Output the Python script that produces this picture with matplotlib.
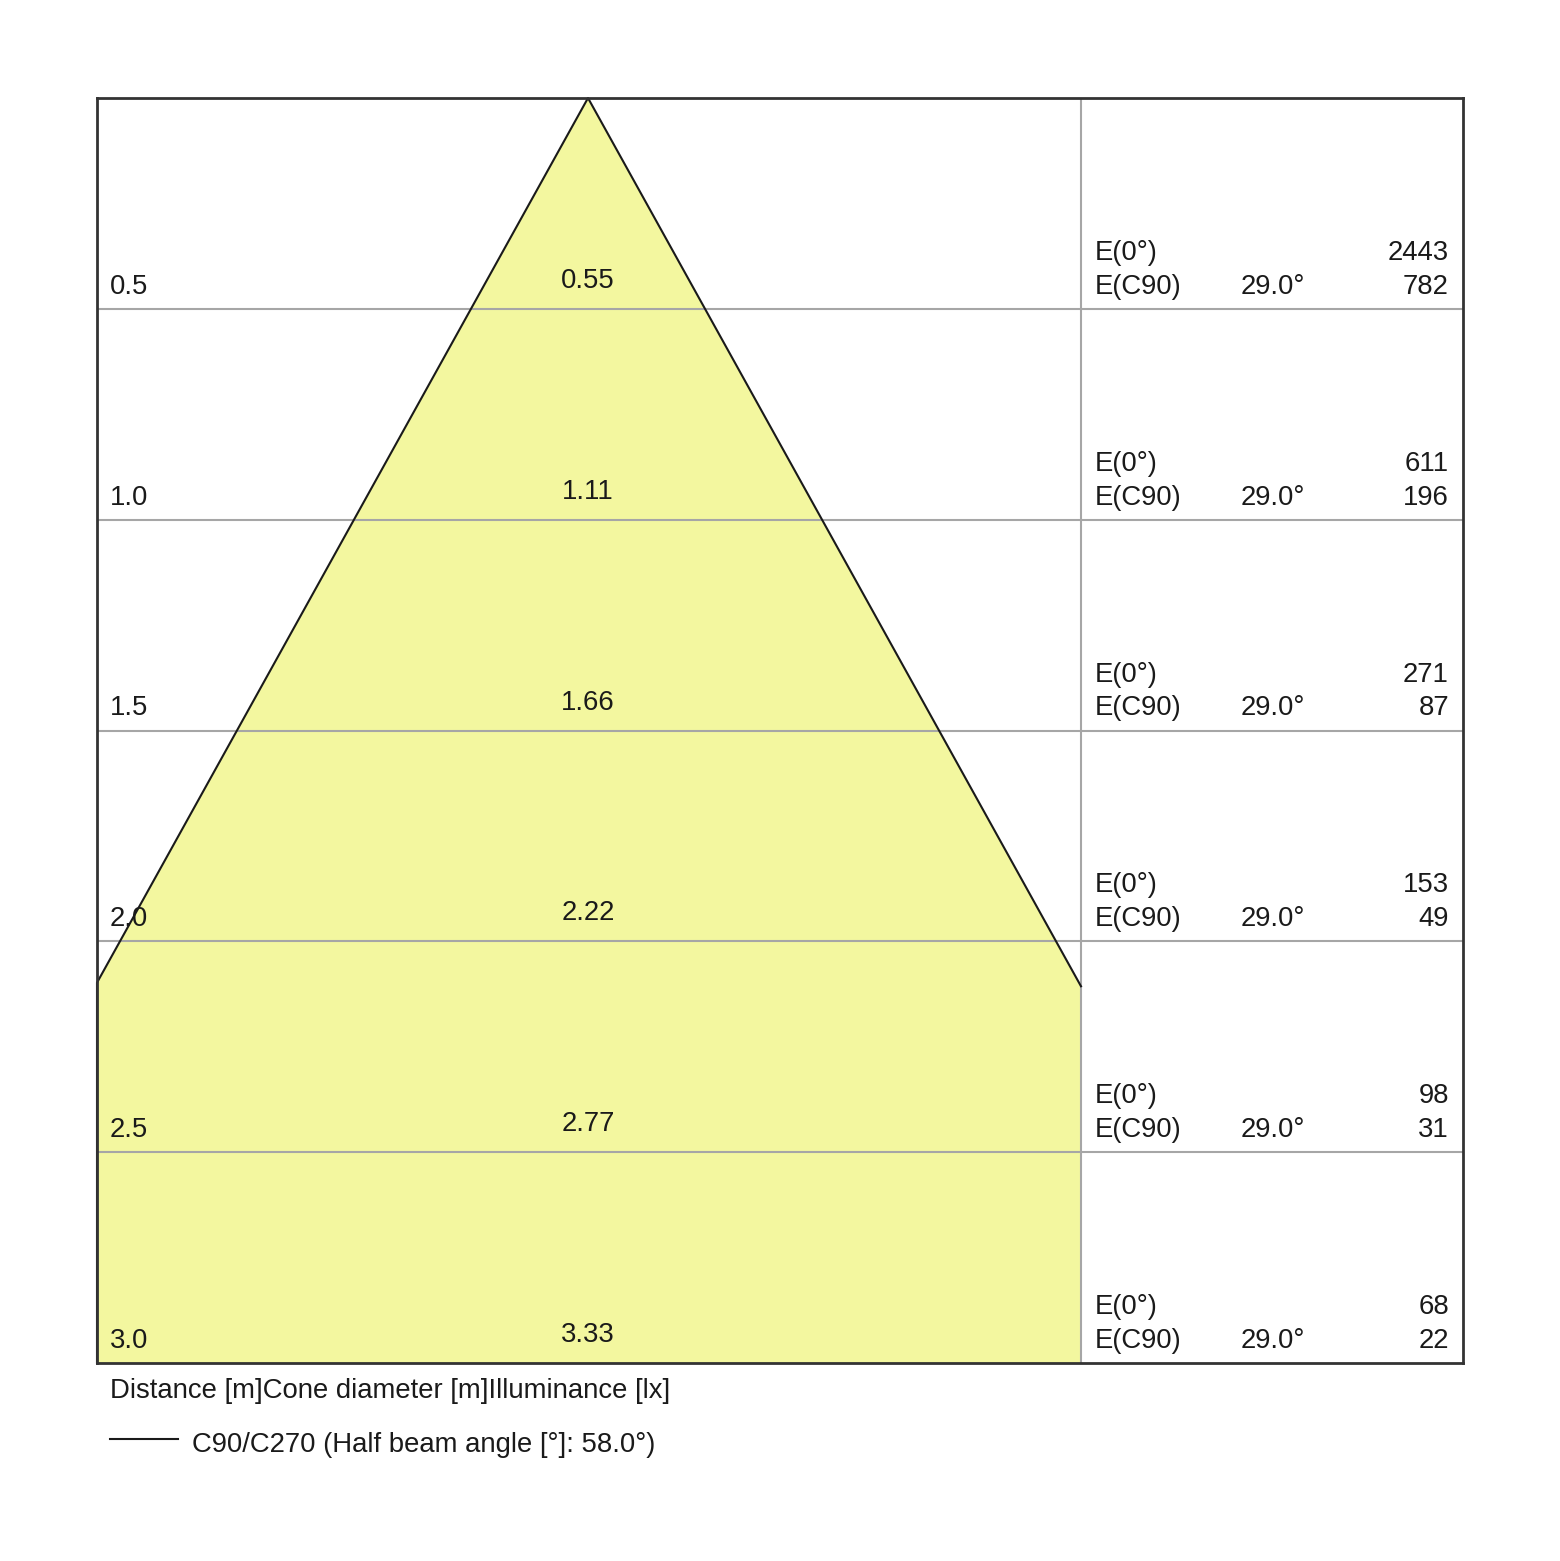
import matplotlib.pyplot as plt
import numpy as np

plt.rcParams['font.family'] = ['Liberation Sans', 'DejaVu Sans']

# data
distances = [0.5, 1.0, 1.5, 2.0, 2.5, 3.0]
diameters = [0.55, 1.11, 1.66, 2.22, 2.77, 3.33]
e_0 = [2443, 611, 271, 153, 98, 68]
e_c90 = [782, 196, 87, 49, 31, 22]
c90_angle = 29.0
half_beam = 58.0

W, H = 1560, 1561
fig = plt.figure(figsize=(W / 100, H / 100), dpi=100)

# box in pixels
left, right, top, bottom = 97, 1463, 98, 1363
apex_px, divider_px = 588, 1081
ppm = (bottom - top) / distances[-1]  # pixels per metre

ax = fig.add_axes([left / W, 1 - bottom / H, (right - left) / W, (bottom - top) / H])
x_left = (left - apex_px) / ppm
x_div = (divider_px - apex_px) / ppm
x_right = (right - apex_px) / ppm
ax.set_xlim(x_left, x_right)
ax.set_ylim(distances[-1], 0)
ax.set_xticks([])
ax.set_yticks([])
for s in ax.spines.values():
    s.set_color('#333333')
    s.set_linewidth(2)
    s.set_zorder(5)


def px2x(px):
    return (px - apex_px) / ppm


# cone
slope = diameters[-1] / 2 / distances[-1]
d_cut = -x_left / slope
d_cut_r = x_div / slope
poly_x = [0, x_left, x_left, x_div, x_div]
poly_y = [0, d_cut, distances[-1], distances[-1], d_cut_r]
ax.fill(poly_x, poly_y, color='#f3f79f', lw=0, zorder=1)
ax.plot([x_div, 0, x_left, x_left], [d_cut_r, 0, d_cut, distances[-1]],
        color='#1a1a1a', lw=1.5, zorder=4, clip_on=False)

# grid
for d in distances[:-1]:
    ax.plot([x_left, x_right], [d, d], color='#a6a6a6', lw=1.5, zorder=2)
ax.plot([x_div, x_div], [0, distances[-1]], color='#a6a6a6', lw=1.5, zorder=2)

fs = 19.8
tc = '#1a1a1a'
for i, d in enumerate(distances):
    ax.text(px2x(110), d - 15 / ppm, f'{d:.1f}', fontsize=fs, color=tc, ha='left', va='baseline', zorder=6)
    ax.text(0, d - 21 / ppm, f'{diameters[i]:.2f}', fontsize=fs, color=tc, ha='center', va='baseline', zorder=6)
    ax.text(px2x(1095), d - 49 / ppm, 'E(0°)', fontsize=fs, color=tc, ha='left', va='baseline')
    ax.text(px2x(1095), d - 15 / ppm, 'E(C90)', fontsize=fs, color=tc, ha='left', va='baseline')
    ax.text(px2x(1241), d - 15 / ppm, f'{c90_angle:.1f}°', fontsize=fs, color=tc, ha='left', va='baseline')
    ax.text(px2x(1449), d - 49 / ppm, f'{e_0[i]}', fontsize=fs, color=tc, ha='right', va='baseline')
    ax.text(px2x(1449), d - 15 / ppm, f'{e_c90[i]}', fontsize=fs, color=tc, ha='right', va='baseline')

# footer
fig.text(110 / W, 1 - 1398 / H, 'Distance [m]Cone diameter [m]Illuminance [lx]',
         fontsize=fs, color=tc, ha='left', va='baseline')
fig.add_artist(plt.Line2D([110 / W, 178 / W], [1 - 1439 / H, 1 - 1439 / H], color='#1a1a1a', lw=1.5))
fig.text(192 / W, 1 - 1452 / H, f'C90/C270 (Half beam angle [°]: {half_beam:.1f}°)',
         fontsize=fs, color=tc, ha='left', va='baseline')

fig.savefig('out.png', dpi=100, facecolor='white')
